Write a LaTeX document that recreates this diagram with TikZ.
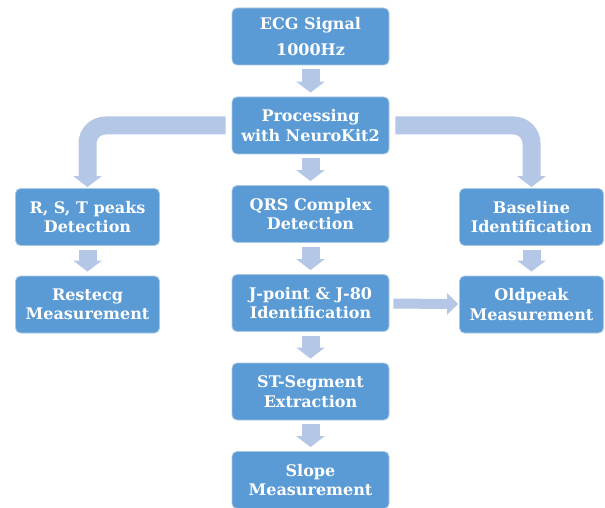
\documentclass[tikz,border=0pt]{standalone}
\usepackage{fontspec}
\setmainfont{DejaVu Serif}
\usepackage{tikz}
\usetikzlibrary{arrows.meta}
\definecolor{boxblue}{HTML}{5B9BD5}
\definecolor{arrowblue}{HTML}{B4C7E7}
\definecolor{edgeblue}{HTML}{A9C8E8}

\begin{document}
\begin{tikzpicture}[x=1pt,y=-1pt]
\tikzstyle{stage}=[rectangle,rounded corners=5pt,fill=boxblue,draw=edgeblue,line width=0.8pt,text=white,align=center,font=\fontsize{16}{19.5}\selectfont\bfseries,minimum width=157pt,minimum height=57pt,inner sep=0pt]
\tikzstyle{side}=[stage,minimum width=144pt]
\tikzstyle{flow}=[draw=arrowblue,line width=18pt,-{Triangle[width=28pt,length=11pt]},shorten <=4pt,shorten >=4pt]
\useasboundingbox (0,0) rectangle (605,508);
\node [stage] (ecg) at (310.5,36.5) {ECG Signal\\[7pt]1000Hz};
\node [stage] (proc) at (310.5,125.5) {Processing\\with NeuroKit2};
\node [stage] (qrs) at (310.5,214) {QRS Complex\\Detection};
\node [stage] (jpt) at (310.5,303) {J-point \& J-80\\Identification};
\node [stage] (st) at (310.5,391.5) {ST-Segment\\Extraction};
\node [stage] (slope) at (310.5,480) {Slope\\Measurement};
\node [side] (rst) at (87.5,217) {R, S, T peaks\\Detection};
\node [side] (restecg) at (87.5,304.5) {Restecg\\Measurement};
\node [side] (base) at (531.5,217) {Baseline\\Identification};
\node [side] (old) at (531.5,304.5) {Oldpeak\\Measurement};
\draw [flow] (ecg) -- (proc);
\draw [flow] (proc) -- (qrs);
\draw [flow] (qrs) -- (jpt);
\draw [flow] (jpt) -- (st);
\draw [flow] (st) -- (slope);
\draw [flow] (rst) -- (restecg);
\draw [flow] (base) -- (old);
\draw [flow,rounded corners=18pt,shorten >=1pt,shorten <=6pt] (proc.west) -| (rst);
\draw [flow,rounded corners=18pt,shorten >=1pt,shorten <=6pt] (proc.east) -| (base);
\draw [flow,line width=10pt,-{Triangle[width=21pt,length=11pt]},shorten >=1pt] (jpt) -- (old);
\end{tikzpicture}
\end{document}
